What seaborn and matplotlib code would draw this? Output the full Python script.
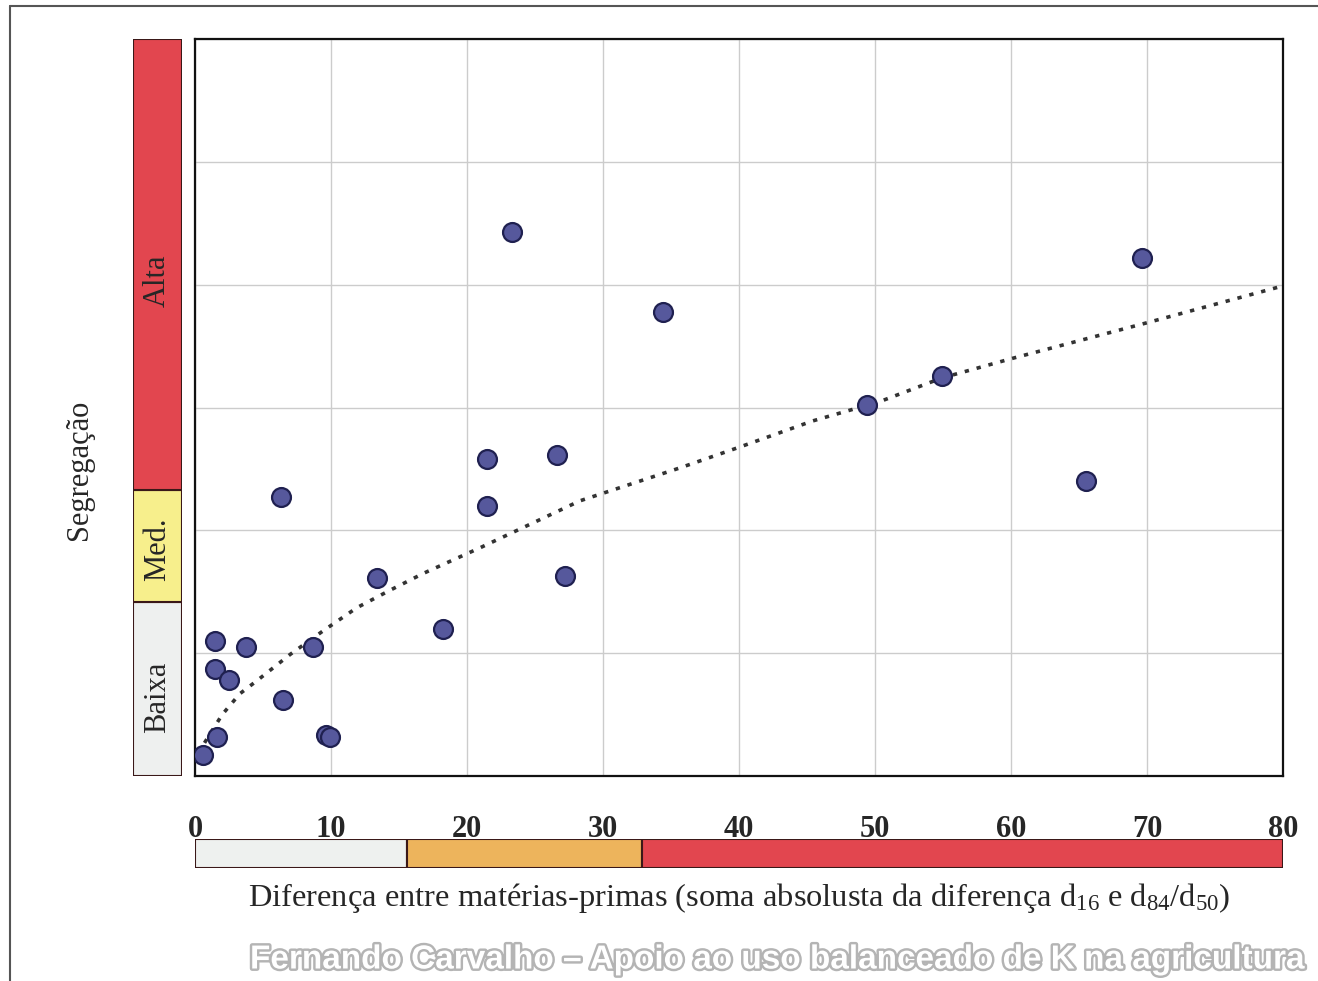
import matplotlib
matplotlib.use("Agg")
import matplotlib.pyplot as plt
import matplotlib.patheffects as pe
from matplotlib.lines import Line2D
import seaborn as sns
import pandas as pd

# scatter points (x: difference, y: segregation, arbitrary scale 0-6)
dif_x = [0.6, 1.6, 1.5, 1.5, 2.5, 3.75, 6.3, 6.5, 8.7, 9.6, 9.9, 13.4, 18.2,
         21.5, 21.5, 23.3, 26.6, 27.2, 34.4, 49.4, 54.9, 65.5, 69.6]
seg_y = [0.17, 0.32, 1.10, 0.87, 0.78, 1.05, 2.27, 0.62, 1.05, 0.33, 0.32, 1.61, 1.20,
         2.58, 2.20, 4.43, 2.61, 1.63, 3.78, 3.02, 3.26, 2.40, 4.22]

# dotted power trend line, read point by point
trend_x = [0.7, 2.0, 3.3, 4.6, 7.0, 9.4, 11.9, 14.3, 16.8, 21.0, 28.3, 35.7,
           40.1, 45.4, 50.4, 54.9, 60.1, 70.0, 80.0]
trend_y = [0.27, 0.50, 0.67, 0.78, 0.99, 1.18, 1.37, 1.51, 1.65, 1.86, 2.24, 2.51,
           2.68, 2.89, 3.05, 3.24, 3.40, 3.69, 3.99]

# class bands
seg_classes = ["Baixa", "Med.", "Alta"]
seg_edges = [0, 1.42, 2.33, 6.0]
seg_colors = ["#eef0ef", "#f7ef8c", "#e2464f"]

dif_edges = [0, 15.6, 32.85, 80]
dif_colors = ["#eef1ef", "#edb45c", "#e2464f"]

x_ticks = [0, 10, 20, 30, 40, 50, 60, 70, 80]

df = pd.DataFrame({"dif": dif_x, "seg": seg_y})
trend = pd.DataFrame({"dif": trend_x, "seg": trend_y})

sns.set_style("white")
plt.rcParams["font.family"] = ["Liberation Serif", "DejaVu Serif"]
plt.rcParams["mathtext.fontset"] = "custom"
plt.rcParams["mathtext.rm"] = "Liberation Serif"
plt.rcParams["mathtext.it"] = "Liberation Serif:italic"

W, H = 1318, 981
fig = plt.figure(figsize=(W / 100, H / 100), dpi=100)
fig.patch.set_facecolor("white")


def box(x0, y0, x1, y1):
    return [x0 / W, 1 - y1 / H, (x1 - x0) / W, (y1 - y0) / H]


ax = fig.add_axes(box(195, 39, 1283, 776))
ax_l = fig.add_axes(box(133, 39, 182, 776), sharey=ax)
ax_b = fig.add_axes(box(195, 839, 1283, 868), sharex=ax)

# main scatter
sns.lineplot(data=trend, x="dif", y="seg", ax=ax, color="#333333", lw=2.6,
             linestyle=(0, (1.2, 2.2)), sort=False, zorder=2)
sns.scatterplot(data=df, x="dif", y="seg", ax=ax, s=185, color="#56589c",
                edgecolor="#1f2050", linewidth=1.6, zorder=3)

ax.set_xlim(0, 80)
ax.set_ylim(0, 6)
ax.set_xticks(x_ticks)
ax.set_yticks(range(0, 7))
ax.set_yticklabels([])
ax.set_xticklabels([str(t) for t in x_ticks], fontsize=22, fontweight="bold")
ax.tick_params(axis="x", length=8, color="#aaaaaa", pad=20, width=1)
ax.tick_params(axis="y", length=9, color="#aaaaaa", width=1)
ax.grid(True, color="#cccccc", lw=1)
ax.set_xlabel("")
ax.set_ylabel("")
for sp in ax.spines.values():
    sp.set_color("#111111")
    sp.set_linewidth(1.6)

# left class bar
for i, name in enumerate(seg_classes):
    ax_l.bar(0, seg_edges[i + 1] - seg_edges[i], bottom=seg_edges[i], width=1,
             color=seg_colors[i], edgecolor="#3a1818", linewidth=1.5)
ax_l.set_xlim(-0.5, 0.5)
ax_l.axis("off")
label_y = [0.64, 1.85, 4.03]
for name, ly in zip(seg_classes, label_y):
    ax_l.text(0, ly, name, rotation=90, ha="center", va="center", fontsize=22)

# bottom class bar
for i in range(3):
    ax_b.barh(0, dif_edges[i + 1] - dif_edges[i], left=dif_edges[i], height=1,
              color=dif_colors[i], edgecolor="#3a1818", linewidth=1.5)
ax_b.set_ylim(-0.5, 0.5)
ax_b.axis("off")

fig.text(80 / W, 1 - 470 / H, "Segregação", rotation=90, ha="center", va="center",
         fontsize=22)
fig.text(739 / W, 1 - 898 / H,
         "Diferença entre matérias-primas (soma absolusta da diferença d$_{16}$ e d$_{84}$/d$_{50}$)",
         ha="center", va="center", fontsize=23.4)

# outer frame of the scanned figure
fig.add_artist(Line2D([10 / W, 1.0], [1 - 6 / H, 1 - 6 / H], color="#555555", lw=1.5))
fig.add_artist(Line2D([10 / W, 10 / W], [0, 1 - 6 / H], color="#555555", lw=1.5))

# watermark
wm = fig.text(250 / W, 1 - 960 / H,
              "Fernando Carvalho – Apoio ao uso balanceado de K na agricultura",
              ha="left", va="center", fontsize=24, fontweight="bold", color="white",
              family=["Liberation Sans", "DejaVu Sans"])
wm.set_path_effects([pe.withStroke(linewidth=3.5, foreground="#b4b4b4")])

fig.savefig("out.png", dpi=100)
